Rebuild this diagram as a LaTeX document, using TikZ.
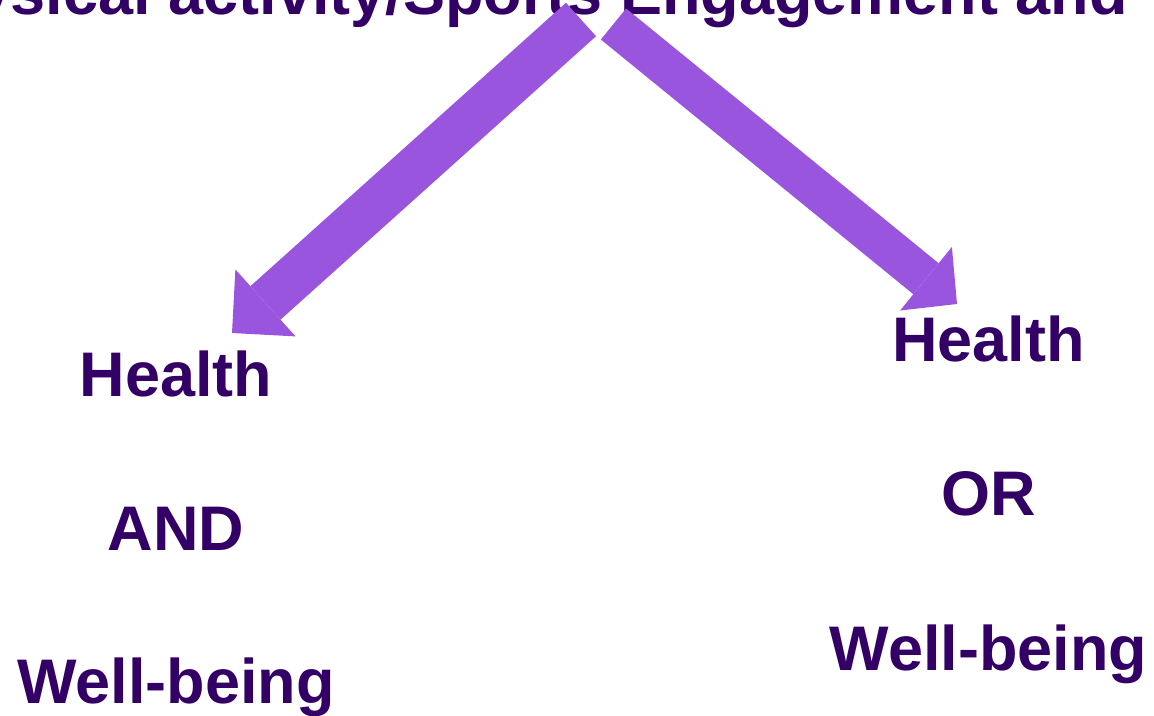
\documentclass[tikz,border=0pt]{standalone}
\usepackage{fontspec}
\setmainfont{Liberation Sans}
\usetikzlibrary{arrows.meta}
\definecolor{txtpurple}{RGB}{51,0,102}
\definecolor{arrpurple}{RGB}{153,85,221}
\tikzset{
  lbl/.style={font=\fontsize{47.25}{56}\selectfont\bfseries, text=txtpurple, inner sep=0pt, anchor=base},
  bigarrowL/.style={draw=arrpurple, line width=33.75pt,
    -{Triangle[width=67.5pt, length=33.75pt, line width=0pt]}},
  bigarrowR/.style={draw=arrpurple, line width=30pt,
    -{Triangle[width=61.5pt, length=30pt, line width=0pt]}}
}
\begin{document}
\begin{tikzpicture}[x=0.75pt, y=-0.75pt]
\useasboundingbox (0,0) rectangle (1154,715);
\clip (0,0) rectangle (1154,715);
% title (cut off at the top)
\node[lbl, anchor=base east] (title) at (1128,14) {Physical activity/Sports Engagement and};
% left column
\node[lbl] (h1) at (176,396) {Health};
\node[lbl] (and) at (176,550) {AND};
\node[lbl] (w1) at (176,703) {Well-being};
% right column
\node[lbl] (h2) at (988.5,361) {Health};
\node[lbl] (or) at (988.5,515) {OR};
\node[lbl] (w2) at (988.5,670) {Well-being};
% arrows
\coordinate (tailL) at (581,19.5);
\coordinate (tipL) at (232,333);
\coordinate (tailR) at (613.5,24);
\coordinate (tipR) at (957,304);
\draw[bigarrowL] (tailL) -- (tipL);
\draw[bigarrowR] (tailR) -- (tipR);
\end{tikzpicture}
\end{document}
